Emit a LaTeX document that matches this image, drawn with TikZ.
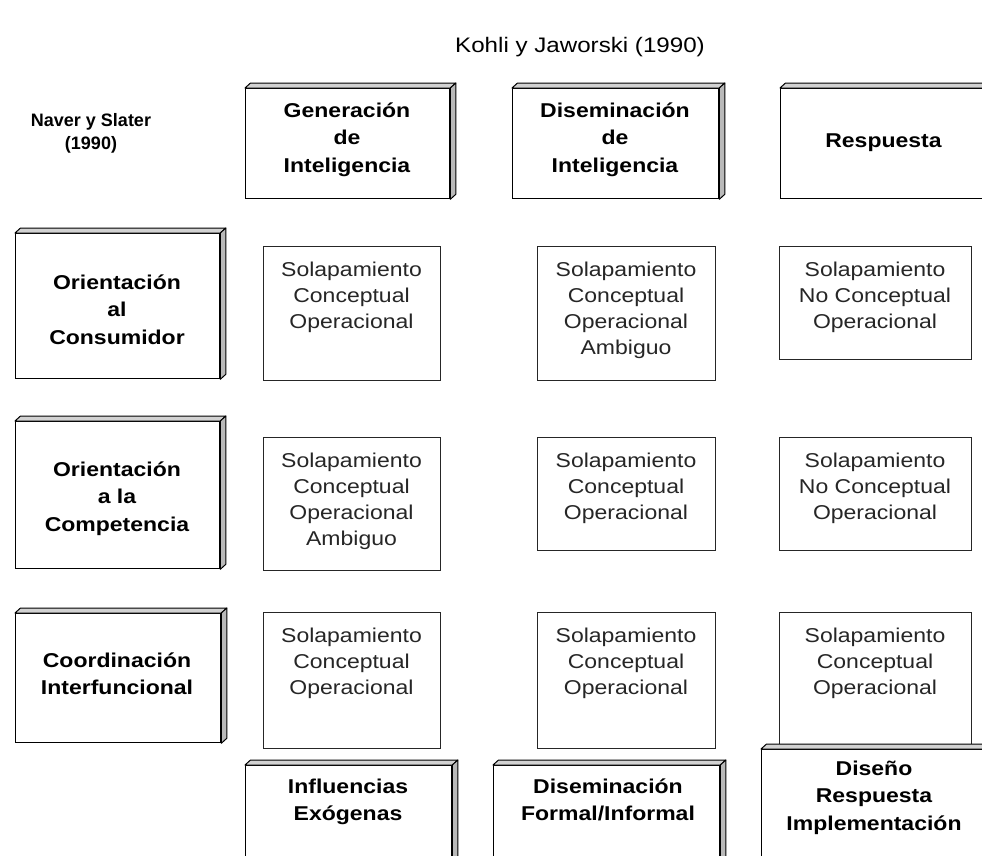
\documentclass[tikz,border=0pt]{standalone}
\usepackage{fontspec}
\newfontfamily\diafont[FakeStretch=1.15]{Liberation Sans}
\newfontfamily\sidefont{Liberation Sans}
\usetikzlibrary{calc}

% invisible rules that fix the height of the first line of a label
\newcommand\tophead{\rule{0pt}{19.25pt}}
\newcommand\topcell{\rule{0pt}{18.2pt}}
\newcommand\topnaver{\rule{0pt}{16.6pt}}

% thin top face and right face that give a box its raised look
\newcommand\boxfaces[1]{%
  \filldraw[topface] (#1.north west) -- ++(5.5,-5) -- ($(#1.north east)+(5.5,-5)$) -- (#1.north east) -- cycle;
  \filldraw[sideface] (#1.north east) -- ++(5.5,-5) -- ($(#1.south east)+(5.5,-5)$) -- (#1.south east) -- cycle;}

\begin{document}
\begin{tikzpicture}[x=1pt,y=-1pt,
  solidbox/.style={draw=black, line width=1.3pt, fill=white, rectangle, inner sep=0pt, anchor=north west},
  flatbox/.style={draw=black!85, line width=1.1pt, fill=white, rectangle, inner sep=0pt, anchor=north west},
  topface/.style={draw=black, line width=1pt, fill=gray!35, line join=round},
  sideface/.style={draw=black, line width=1pt, fill=gray!55, line join=round},
  headtxt/.style={font=\diafont\bfseries\fontsize{20}{27.5}\selectfont, align=center, inner sep=0pt, anchor=north},
  celltxt/.style={font=\diafont\fontsize{20}{26}\selectfont, text=black!85, align=center, inner sep=0pt, anchor=north},
]
\useasboundingbox (0,0) rectangle (982,855);
\clip (0,0) rectangle (982,855);

% title and row header
\node[font=\diafont\fontsize{21}{25}\selectfont, inner sep=0pt, anchor=base] (title) at (580,52) {Kohli y Jaworski (1990)};
\node[font=\sidefont\bfseries\fontsize{18}{23}\selectfont, align=center, inner sep=0pt, anchor=north] (naver) at (91,110) {\topnaver Naver y Slater\\(1990)};

% column headers
\node[solidbox, minimum width=204pt, minimum height=110pt] (gen) at (245,88) {};
\boxfaces{gen}
\node[solidbox, minimum width=206pt, minimum height=110pt] (dis) at (512,88) {};
\boxfaces{dis}
\node[solidbox, minimum width=207pt, minimum height=110pt] (res) at (780,88) {};
\boxfaces{res}

\node[headtxt] (tgen) at (347,97.75) {\tophead Generación\\de\\Inteligencia};
\node[headtxt] (tdis) at (615,97.75) {\tophead Diseminación\\de\\Inteligencia};
\node[headtxt] (tres) at (883.5,127.75) {\tophead Respuesta};

% row headers
\node[solidbox, minimum width=204pt, minimum height=145pt] (ocons) at (15,233) {};
\boxfaces{ocons}
\node[solidbox, minimum width=204pt, minimum height=147pt] (ocomp) at (15,421) {};
\boxfaces{ocomp}
\node[solidbox, minimum width=205pt, minimum height=129pt] (coord) at (15,613) {};
\boxfaces{coord}

\node[headtxt] (tocons) at (117,269.75) {\tophead Orientación\\al\\Consumidor};
\node[headtxt] (tocomp) at (117,456.75) {\tophead Orientación\\a la\\Competencia};
\node[headtxt] (tcoord) at (117,647.75) {\tophead Coordinación\\Interfuncional};

% cells
\node[flatbox, minimum width=177pt, minimum height=134pt] (p11) at (263,246) {};
\node[flatbox, minimum width=178pt, minimum height=134pt] (p12) at (537,246) {};
\node[flatbox, minimum width=192pt, minimum height=113pt] (p13) at (779,246) {};
\node[flatbox, minimum width=177pt, minimum height=133pt] (p21) at (263,437) {};
\node[flatbox, minimum width=178pt, minimum height=113pt] (p22) at (537,437) {};
\node[flatbox, minimum width=192pt, minimum height=113pt] (p23) at (779,437) {};
\node[flatbox, minimum width=177pt, minimum height=136pt] (p31) at (263,612) {};
\node[flatbox, minimum width=178pt, minimum height=136pt] (p32) at (537,612) {};
\node[flatbox, minimum width=192pt, minimum height=136pt] (p33) at (779,612) {};

\node[celltxt] (c11) at (351.5,257.8) {\topcell Solapamiento\\Conceptual\\Operacional};
\node[celltxt] (c12) at (626,257.8) {\topcell Solapamiento\\Conceptual\\Operacional\\Ambiguo};
\node[celltxt] (c13) at (875,257.8) {\topcell Solapamiento\\No Conceptual\\Operacional};
\node[celltxt] (c21) at (351.5,448.8) {\topcell Solapamiento\\Conceptual\\Operacional\\Ambiguo};
\node[celltxt] (c22) at (626,448.8) {\topcell Solapamiento\\Conceptual\\Operacional};
\node[celltxt] (c23) at (875,448.8) {\topcell Solapamiento\\No Conceptual\\Operacional};
\node[celltxt] (c31) at (351.5,623.8) {\topcell Solapamiento\\Conceptual\\Operacional};
\node[celltxt] (c32) at (626,623.8) {\topcell Solapamiento\\Conceptual\\Operacional};
\node[celltxt] (c33) at (875,623.8) {\topcell Solapamiento\\Conceptual\\Operacional};

% bottom row
\node[solidbox, minimum width=206pt, minimum height=110pt] (infl) at (245,765) {};
\boxfaces{infl}
\node[solidbox, minimum width=226pt, minimum height=110pt] (disf) at (493,765) {};
\boxfaces{disf}
\node[solidbox, minimum width=226pt, minimum height=126pt] (dise) at (761,749) {};
\boxfaces{dise}

\node[headtxt] (tinfl) at (348,773.75) {\tophead Influencias\\Exógenas};
\node[headtxt] (tdisf) at (608,773.75) {\tophead Diseminación\\Formal/Informal};
\node[headtxt] (tdise) at (874,755.75) {\tophead Diseño\\Respuesta\\Implementación};
\end{tikzpicture}
\end{document}
